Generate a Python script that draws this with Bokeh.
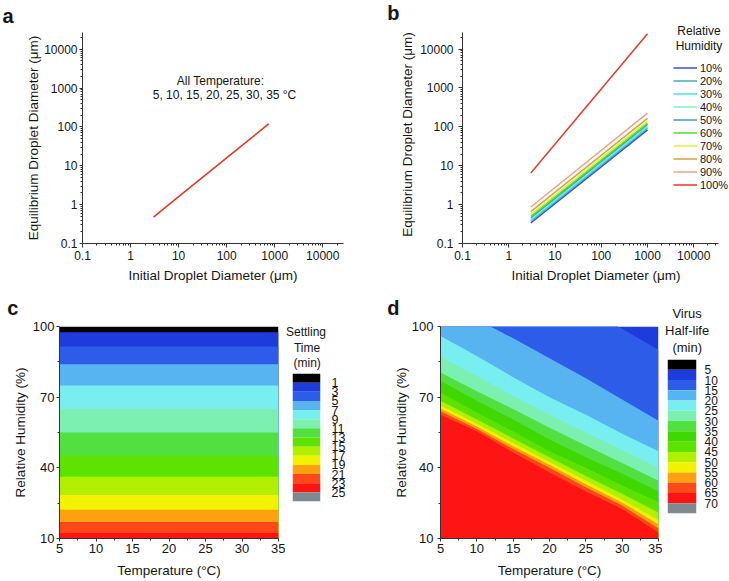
import numpy as np
from bokeh.plotting import figure
from bokeh.layouts import column, row
from bokeh.models import Range1d, FixedTicker, CustomJSTickFormatter, Label, Title
from bokeh.embed import file_html
from bokeh.resources import INLINE

FONT = "Liberation Sans"
AXIS_COLOR = "#333333"
TEXT_COLOR = "#151515"

# ---------------- data ----------------
# (a) equilibrium vs initial diameter, identical for all temperatures
a_initial = [3, 10, 100, 750]
a_equilibrium = [0.48, 1.6, 16, 120]
a_note_1 = "All Temperature:"
a_note_2 = "5, 10, 15, 20, 25, 30, 35 °C"

# (b) equilibrium diameter for each relative humidity
b_initial = [3, 1000]
b_labels = ["10%", "20%", "30%", "40%", "50%", "60%", "70%", "80%", "90%", "100%"]
b_at_start = [0.34, 0.37, 0.40, 0.43, 0.46, 0.50, 0.56, 0.66, 0.87, 6.5]
b_at_end = [84, 92, 100, 107, 115, 125, 140, 165, 225, 25000]
b_colors = ["#3a4ee0", "#46a8b8", "#48e6e0", "#88f0c8", "#3e9cc0",
            "#4ee02a", "#e0f040", "#d8a040", "#f0a090", "#e43a28"]

log_ticks = [0.1, 1, 10, 100, 1000, 10000]
log_labels = ["0.1", "1", "10", "100", "1000", "10000"]

# (c) settling time (min) vs relative humidity (same at every temperature)
c_temperature = [5, 10, 15, 20, 25, 30, 35]
c_rh = [10, 20, 30, 40, 50, 60, 70, 80, 90, 100]
c_settling = [24.0, 19.7, 16.5, 14.1, 12.0, 10.0, 8.0, 6.0, 3.5, 0.2]
c_levels = [-1, 1, 3, 5, 7, 9, 11, 13, 15, 17, 19, 21, 23, 25, 27]
c_ticks = [1, 3, 5, 7, 9, 11, 13, 15, 17, 19, 21, 23, 25]
c_colors = ["#000000", "#1e3cdc", "#2c5ce8", "#58b4f0", "#78eef0", "#7cf0b0", "#52e040",
            "#5ee200", "#b0f000", "#f2f200", "#ffa010", "#ff4818", "#ff1414", "#808890"]

# (d) virus half-life: RH (%) where the half-life crosses each level, per temperature
d_temperature = [5, 10, 15, 20, 25, 30, 35]
d_rh_10 = [144, 135, 126, 117, 108, 99, 90]
d_rh_15 = [111, 103, 95, 86.5, 78, 69, 60]
d_rh_20 = [96, 87.5, 78.5, 70, 62.5, 54.5, 47]
d_rh_25 = [87, 79, 70.5, 62.5, 55, 47.5, 40]
d_rh_30 = [80.5, 72.5, 65, 57, 49.5, 42, 34.5]
d_rh_35 = [77, 68.5, 60.5, 52, 44.5, 37.5, 30]
d_rh_40 = [72, 63.5, 55.5, 47, 40, 32.5, 25.5]
d_rh_45 = [68.5, 60.5, 52.5, 44.5, 36.5, 29, 21]
d_rh_50 = [66.5, 58.7, 50.5, 42.5, 34.5, 26.5, 17.8]
d_rh_55 = [65.2, 57.5, 49.2, 41.3, 33, 25.3, 16]
d_rh_60 = [64, 56.5, 48, 40, 31.8, 24, 14.2]
d_rh_65 = [62.5, 55.5, 46.5, 38, 30, 22.5, 12.5]
d_boundary_levels = [10, 15, 20, 25, 30, 35, 40, 45, 50, 55, 60, 65]
d_boundaries = [d_rh_10, d_rh_15, d_rh_20, d_rh_25, d_rh_30, d_rh_35,
                d_rh_40, d_rh_45, d_rh_50, d_rh_55, d_rh_60, d_rh_65]
d_levels = [0, 5, 10, 15, 20, 25, 30, 35, 40, 45, 50, 55, 60, 65, 70, 75]
d_ticks = [5, 10, 15, 20, 25, 30, 35, 40, 45, 50, 55, 60, 65, 70]
d_colors = ["#000000", "#1e3cdc", "#2c5ce8", "#58b4f0", "#78eef0", "#7cf0b0", "#52e040",
            "#40d800", "#5ee200", "#b0f000", "#f2f200", "#ffa010", "#ff4818", "#ff1414", "#808890"]

temp_ticks = [5, 10, 15, 20, 25, 30, 35]
rh_ticks = [10, 40, 70, 100]


# ---------------- helpers ----------------
def style(p, tick_size, label_size):
    for ax in p.axis:
        ax.axis_line_color = AXIS_COLOR
        ax.major_tick_line_color = AXIS_COLOR
        ax.minor_tick_line_color = AXIS_COLOR
        ax.major_tick_in = 0
        ax.minor_tick_in = 0
        ax.minor_tick_out = 2
        ax.major_label_text_font = FONT
        ax.major_label_text_font_size = tick_size
        ax.major_label_text_color = TEXT_COLOR
        ax.axis_label_text_font = FONT
        ax.axis_label_text_font_size = label_size
        ax.axis_label_text_font_style = "normal"
        ax.axis_label_text_color = TEXT_COLOR
    p.grid.visible = False
    p.outline_line_color = None


def text(p, x, y, s, size="12px"):
    p.add_layout(Label(x=x, y=y, x_units="screen", y_units="screen", text=s,
                       text_font=FONT, text_font_size=size, text_align="center",
                       text_baseline="middle", text_color=TEXT_COLOR))


def title(p, s, offset, standoff, size, bold=False, valign="bottom"):
    p.add_layout(Title(text=s, align="left", offset=offset, standoff=standoff,
                       vertical_align=valign,
                       text_font=FONT, text_font_size=size,
                       text_font_style="bold" if bold else "normal",
                       text_color=TEXT_COLOR), "above")


def log_panel(width, x_end, y_end, left, right, top, bottom, x_bound):
    p = figure(width=width, height=285, x_axis_type="log", y_axis_type="log",
               x_range=Range1d(0.1, x_end), y_range=Range1d(0.1, y_end),
               min_border_left=left, min_border_right=right,
               min_border_top=top, min_border_bottom=bottom, frame_align=False,
               toolbar_location=None, output_backend="svg")
    fmt = CustomJSTickFormatter(args=dict(t=log_ticks, l=log_labels),
                                code="const i = t.indexOf(tick); return i >= 0 ? l[i] : '';")
    minor = [m * 10.0 ** e for e in range(-1, 5) for m in range(2, 10)]
    for ax, end in ((p.xaxis[0], x_bound), (p.yaxis[0], 27000)):
        ax.ticker = FixedTicker(ticks=log_ticks, minor_ticks=[v for v in minor if v <= end])
        ax.formatter = fmt
        ax.bounds = (0.1, end)
    p.xaxis.axis_label = "Initial Droplet Diameter (μm)"
    p.yaxis.axis_label = "Equilibrium Droplet Diameter (μm)"
    style(p, "12px", "13.5px")
    p.xaxis.major_tick_out = 4
    p.xaxis.major_label_standoff = 3
    p.xaxis.axis_label_standoff = 5
    return p


# ---------------- panel a ----------------
pa = log_panel(365, 27000, 27000, 82, 22, 32, 42, 27000)
pa.yaxis.major_tick_out = 3
pa.yaxis.major_label_standoff = 2
pa.yaxis.axis_label_standoff = 0
pa.line(a_initial, a_equilibrium, line_color="#e43a28", line_width=1.6)
text(pa, 138, 163, a_note_1, "12px")
text(pa, 142, 148.3, a_note_2, "12px")
title(pa, "a", -80, 7, "20px", bold=True, valign="top")

# ---------------- panel b ----------------
# frame reaches the right/top edge so the legend fits; axes stop where the reference's do
pb = log_panel(364, 59200, 40500, 97, 0, 25, 41, 34000)
pb.yaxis.major_tick_out = 4
pb.yaxis.major_label_standoff = 5
pb.yaxis.axis_label_standoff = 2
for lab, y0, y1, col in zip(b_labels, b_at_start, b_at_end, b_colors):
    pb.line(b_initial, [y0, y1], line_color=col, line_width=1.5, legend_label=lab)
leg = pb.legend[0]
leg.location = (211, 52)
leg.margin = 0
leg.padding = 0
leg.spacing = 0
leg.glyph_width = 24
leg.glyph_height = 13
leg.label_height = 13
leg.label_standoff = 3
leg.label_text_font = FONT
leg.label_text_font_size = "11px"
leg.label_text_color = TEXT_COLOR
leg.background_fill_alpha = 0
leg.border_line_color = None
text(pb, 236.5, 212.5, "Relative", "12px")
text(pb, 236.5, 197.3, "Humidity", "12px")
title(pb, "b", -75.3, 0, "20px", bold=True, valign="top")


# ---------------- contour panels ----------------
def contour_panel(width, left, right):
    p = figure(width=width, height=296, x_range=Range1d(temp_ticks[0], temp_ticks[-1]),
               y_range=Range1d(rh_ticks[0], rh_ticks[-1]),
               min_border_left=left, min_border_right=right,
               min_border_top=41, min_border_bottom=43, frame_align=False,
               toolbar_location=None, output_backend="svg")
    p.xaxis.ticker = FixedTicker(ticks=temp_ticks,
                                 minor_ticks=[t + 2.5 for t in temp_ticks[:-1]])
    p.yaxis.ticker = FixedTicker(ticks=rh_ticks,
                                 minor_ticks=[r + 15 for r in rh_ticks[:-1]])
    p.xaxis.axis_label = "Temperature (°C)"
    p.yaxis.axis_label = "Relative Humidity (%)"
    style(p, "13px", "13.5px")
    for ax in p.axis:
        ax.major_tick_out = 3
    p.xaxis.major_label_standoff = 2
    p.xaxis.axis_label_standoff = 7
    return p


def colorbar(width, left, right, top, bottom, levels, colors, ticks, size, standoff):
    p = figure(width=width, height=296, x_range=Range1d(0, 1),
               y_range=Range1d(levels[-1], levels[0]),
               x_axis_location=None, y_axis_location="right",
               min_border_left=left, min_border_right=right,
               min_border_top=top, min_border_bottom=bottom, frame_align=False,
               toolbar_location=None, output_backend="svg")
    p.quad(left=0, right=1, bottom=levels[1:], top=levels[:-1],
           fill_color=colors, line_color=None)
    ax = p.yaxis[0]
    ax.ticker = FixedTicker(ticks=ticks)
    ax.axis_line_color = None
    ax.major_tick_line_color = None
    ax.minor_tick_line_color = None
    ax.major_label_standoff = standoff
    ax.major_label_text_font = FONT
    ax.major_label_text_font_size = size
    ax.major_label_text_color = TEXT_COLOR
    p.grid.visible = False
    p.outline_line_color = None
    return p


# ---------------- panel c ----------------
pc = contour_panel(285, 59, 7)
pc.yaxis.major_label_standoff = 2
pc.yaxis.axis_label_standoff = 2
c_band_tops = np.interp(c_levels[:-1], c_settling[::-1], c_rh[::-1])
pc.quad(left=min(c_temperature), right=max(c_temperature), bottom=rh_ticks[0],
        top=c_band_tops, fill_color=c_colors[:len(c_band_tops)], line_color=None)
title(pc, "c", -52.3, 16, "20px", bold=True)

pcb = colorbar(80, 7, 45, 88, 80, c_levels, c_colors, c_ticks, "12.5px", 5)
title(pcb, "(min)", 1, 3, "12px", valign="top")
title(pcb, "Time", 1.4, 0, "12px")
title(pcb, "Settling", -6.5, 0, "12px")

# ---------------- panel d ----------------
pd_ = contour_panel(297, 75, 4)
pd_.yaxis.major_label_standoff = 4
pd_.yaxis.axis_label_standoff = 0
t0, t1 = d_temperature[0], d_temperature[-1]
r0, r1 = rh_ticks[0], rh_ticks[-1]
pd_.quad(left=t0, right=t1, bottom=r0, top=r1, fill_color=d_colors[1], line_color=None)
xs = [d_temperature + [t1, t0] for _ in d_boundaries]
ys = [list(b) + [r0, r0] for b in d_boundaries]
fills = [d_colors[d_levels.index(lv)] for lv in d_boundary_levels]
pd_.patches(xs, ys, fill_color=fills, line_color=None)
title(pd_, "d", -53.3, 16, "20px", bold=True)

pdb = colorbar(67, 5, 33, 74, 68, d_levels, d_colors, d_ticks, "12px", 2)
title(pdb, "(min)", 4.9, 4.5, "13px", valign="top")
title(pdb, "Half-life", -2.4, 0, "13px")
title(pdb, "Virus", 4.9, 0, "13px")

layout = column(row(pa, pb), row(pc, pcb, pd_, pdb))
open("out.html", "w").write(file_html(layout, INLINE))
